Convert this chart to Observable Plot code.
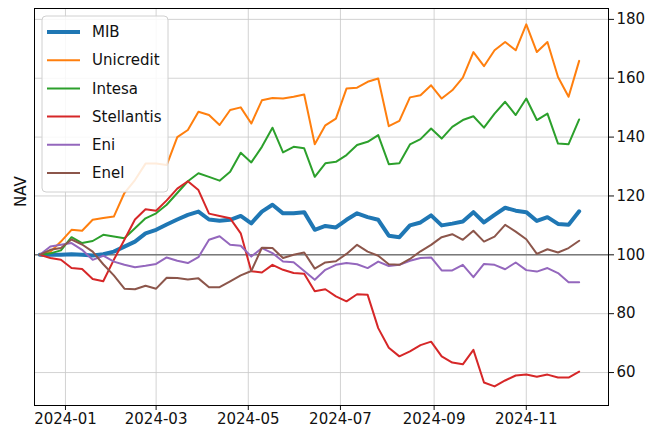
<!DOCTYPE html>
<html>
<head>
<meta charset="utf-8">
<script src="https://cdn.jsdelivr.net/npm/d3@7"></script>
<script src="https://cdn.jsdelivr.net/npm/@observablehq/plot@0.6"></script>
<style>
  html, body { margin: 0; padding: 0; background: #fff; }
  #chart { width: 659px; height: 432px; }
</style>
</head>
<body>
<div id="chart"></div>
<script>
// Weekly observation dates (Fridays), 2023-12-15 .. 2024-12-06
const dates = d3.utcDay.range(new Date("2023-12-15"), new Date("2024-12-07"), 7);

const names = ["MIB", "Unicredit", "Intesa", "Stellantis", "Eni", "Enel"];
const colors = ["#1f77b4", "#ff7f0e", "#2ca02c", "#d62728", "#9467bd", "#8c564b"];

const mib = [100, 100, 100, 100.2, 100, 99.8, 100.2, 101.1, 102.8, 104.5,
  107.3, 108.5, 110.3, 112, 113.6, 114.7, 112, 111.6, 111.9, 113.2,
  110.7, 114.7, 117, 114.1, 114.1, 114.5, 108.5, 109.8, 109.3, 111.9,
  114.1, 112.8, 111.9, 106.5, 106, 110, 111, 113.4, 110, 110.6,
  111.3, 114.5, 111, 113.6, 116, 115, 114.5, 111.5, 112.8, 110.5,
  110.2, 114.8];
const unicredit = [100, 101, 104.5, 108.5, 108.2, 111.9, 112.5, 113, 121, 125.4,
  131, 131, 130.5, 140, 142.4, 148.6, 147.5, 144.1, 149.2, 150.1,
  144.6, 152.5, 153.3, 153.1, 153.7, 154.5, 137.6, 144, 146.3, 156.5,
  156.8, 158.8, 159.9, 143.7, 145.5, 153.5, 154.2, 157.6, 153.1, 155.9,
  160.2, 168.9, 164.1, 169.5, 172.3, 169.5, 178.3, 168.9, 172.3, 160.4,
  153.7, 165.9];
const intesa = [100, 100.5, 101.5, 106, 104, 104.7, 106.8, 106.2, 105.6, 109,
  112.4, 114.1, 117, 121, 125, 127.7, 126.5, 125.2, 128.2, 134.7,
  131.4, 136.7, 143.2, 134.8, 136.7, 136.2, 126.5, 131.1, 131.6, 133.9,
  137.3, 138.4, 140.7, 130.8, 131.1, 137.5, 139.3, 142.9, 139.5, 143.5,
  145.8, 147.1, 143.2, 148, 152, 147.5, 153.1, 145.8, 148, 137.8,
  137.6, 146];
const stellantis = [100, 98.9, 98.3, 95.5, 95.2, 91.8, 91, 98.3, 105.1, 112,
  115.5, 115, 118.5, 122.5, 125, 122, 114, 113.2, 112.4, 107.3,
  94.4, 94, 96.6, 94.9, 93.8, 93.6, 87.6, 88.3, 85.9, 84.2,
  86.6, 86.4, 75.1, 68.4, 65.5, 67.2, 69.3, 70.5, 65.5, 63.4,
  62.8, 67.7, 56.6, 55.3, 57.3, 59, 59.3, 58.6, 59.3, 58.3,
  58.3, 60.3];
const eni = [100, 102.8, 103.4, 104, 101.7, 98.3, 99.7, 97.7, 96.6, 95.8,
  96.3, 96.9, 99.1, 98, 97.2, 99.2, 105.1, 106.3, 103.4, 103.1,
  99.4, 102.3, 100.6, 97.7, 97.5, 94.5, 91.5, 94.9, 96.6, 97.2,
  96.8, 95.5, 97.7, 96.2, 96.6, 98, 98.9, 99.1, 94.7, 94.7,
  96.6, 92.4, 96.9, 96.6, 95.1, 97.4, 94.8, 94.3, 95.5, 93.8,
  90.7, 90.7];
const enel = [100, 101.7, 102.3, 105.2, 103.5, 101.1, 96.8, 93, 88.5, 88.3,
  89.5, 88.5, 92.2, 92.1, 91.6, 92, 89, 89, 91, 93,
  94.5, 102.4, 102.3, 98.9, 100, 100.8, 95.3, 97.4, 97.8, 100.3,
  103.4, 101.1, 99.7, 96.8, 96.6, 98.6, 101.2, 103.4, 106, 107,
  105.1, 108.2, 104.5, 106.2, 110.2, 107.9, 105.3, 100.3, 101.9, 100.8,
  102.3, 104.8];

const yTicks = [60, 80, 100, 120, 140, 160, 180];
const xTicks = ["2024-01-01", "2024-03-01", "2024-05-01", "2024-07-01", "2024-09-01", "2024-11-01"].map(s => new Date(s));

const seriesValues = [mib, unicredit, intesa, stellantis, eni, enel];
const rows = names.flatMap((n, k) => seriesValues[k].map((v, i) => ({date: dates[i], nav: v, name: n})));

const FONT = "'DejaVu Sans', sans-serif";

const chart = Plot.plot({
  width: 659,
  height: 432,
  marginLeft: 34,
  marginRight: 51,
  marginTop: 8,
  marginBottom: 27,
  style: {fontFamily: FONT, fontSize: "15px", color: "#111", background: "#fff"},
  x: {type: "utc", domain: [new Date("2023-12-11T12:00Z"), new Date("2024-12-25T10:00Z")], label: null},
  y: {domain: [48.8, 183.7], label: null},
  color: {domain: names, range: colors},
  marks: [
    Plot.gridX(xTicks, {stroke: "#c8c8c8", strokeOpacity: 1, strokeWidth: 0.8}),
    Plot.gridY(yTicks, {stroke: "#c8c8c8", strokeOpacity: 1, strokeWidth: 0.8}),
    Plot.ruleY([100], {stroke: "#7a7a7a", strokeWidth: 1.6}),
    Plot.line(rows.filter(d => d.name === "MIB"), {x: "date", y: "nav", stroke: "name", strokeWidth: 4}),
    Plot.line(rows.filter(d => d.name !== "MIB"), {x: "date", y: "nav", z: "name", stroke: "name", strokeWidth: 2}),
    Plot.axisY(yTicks, {anchor: "right", tickSize: 5, tickPadding: 3, fontSize: 15, label: null}),
    Plot.axisX(xTicks, {anchor: "bottom", tickSize: 5, tickPadding: 3, fontSize: 15, tickFormat: d3.utcFormat("%Y-%m"), label: null}),
    Plot.frame({stroke: "#000", strokeWidth: 1}),
    Plot.text(["NAV"], {frameAnchor: "left", rotate: -90, dx: -13, fontSize: 15, fill: "#111"})
  ]
});

document.getElementById("chart").appendChild(chart);

// In-plot legend (upper left)
const svg = d3.select(chart);
const lg = svg.append("g").attr("font-family", FONT).attr("font-size", 15).attr("text-anchor", "start");
lg.append("rect")
  .attr("x", 42).attr("y", 16).attr("width", 126).attr("height", 176)
  .attr("rx", 4).attr("fill", "#fff").attr("fill-opacity", 0.85)
  .attr("stroke", "#d0d0d0").attr("stroke-width", 1);
names.forEach((n, k) => {
  const cy = 32 + k * 28.2;
  lg.append("line")
    .attr("x1", 47).attr("x2", 80).attr("y1", cy).attr("y2", cy)
    .attr("stroke", colors[k]).attr("stroke-width", n === "MIB" ? 4 : 2);
  lg.append("text")
    .attr("x", 92).attr("y", cy).attr("dy", "0.35em")
    .attr("text-anchor", "start")
    .attr("fill", "#111").text(n);
});
</script>
</body>
</html>
